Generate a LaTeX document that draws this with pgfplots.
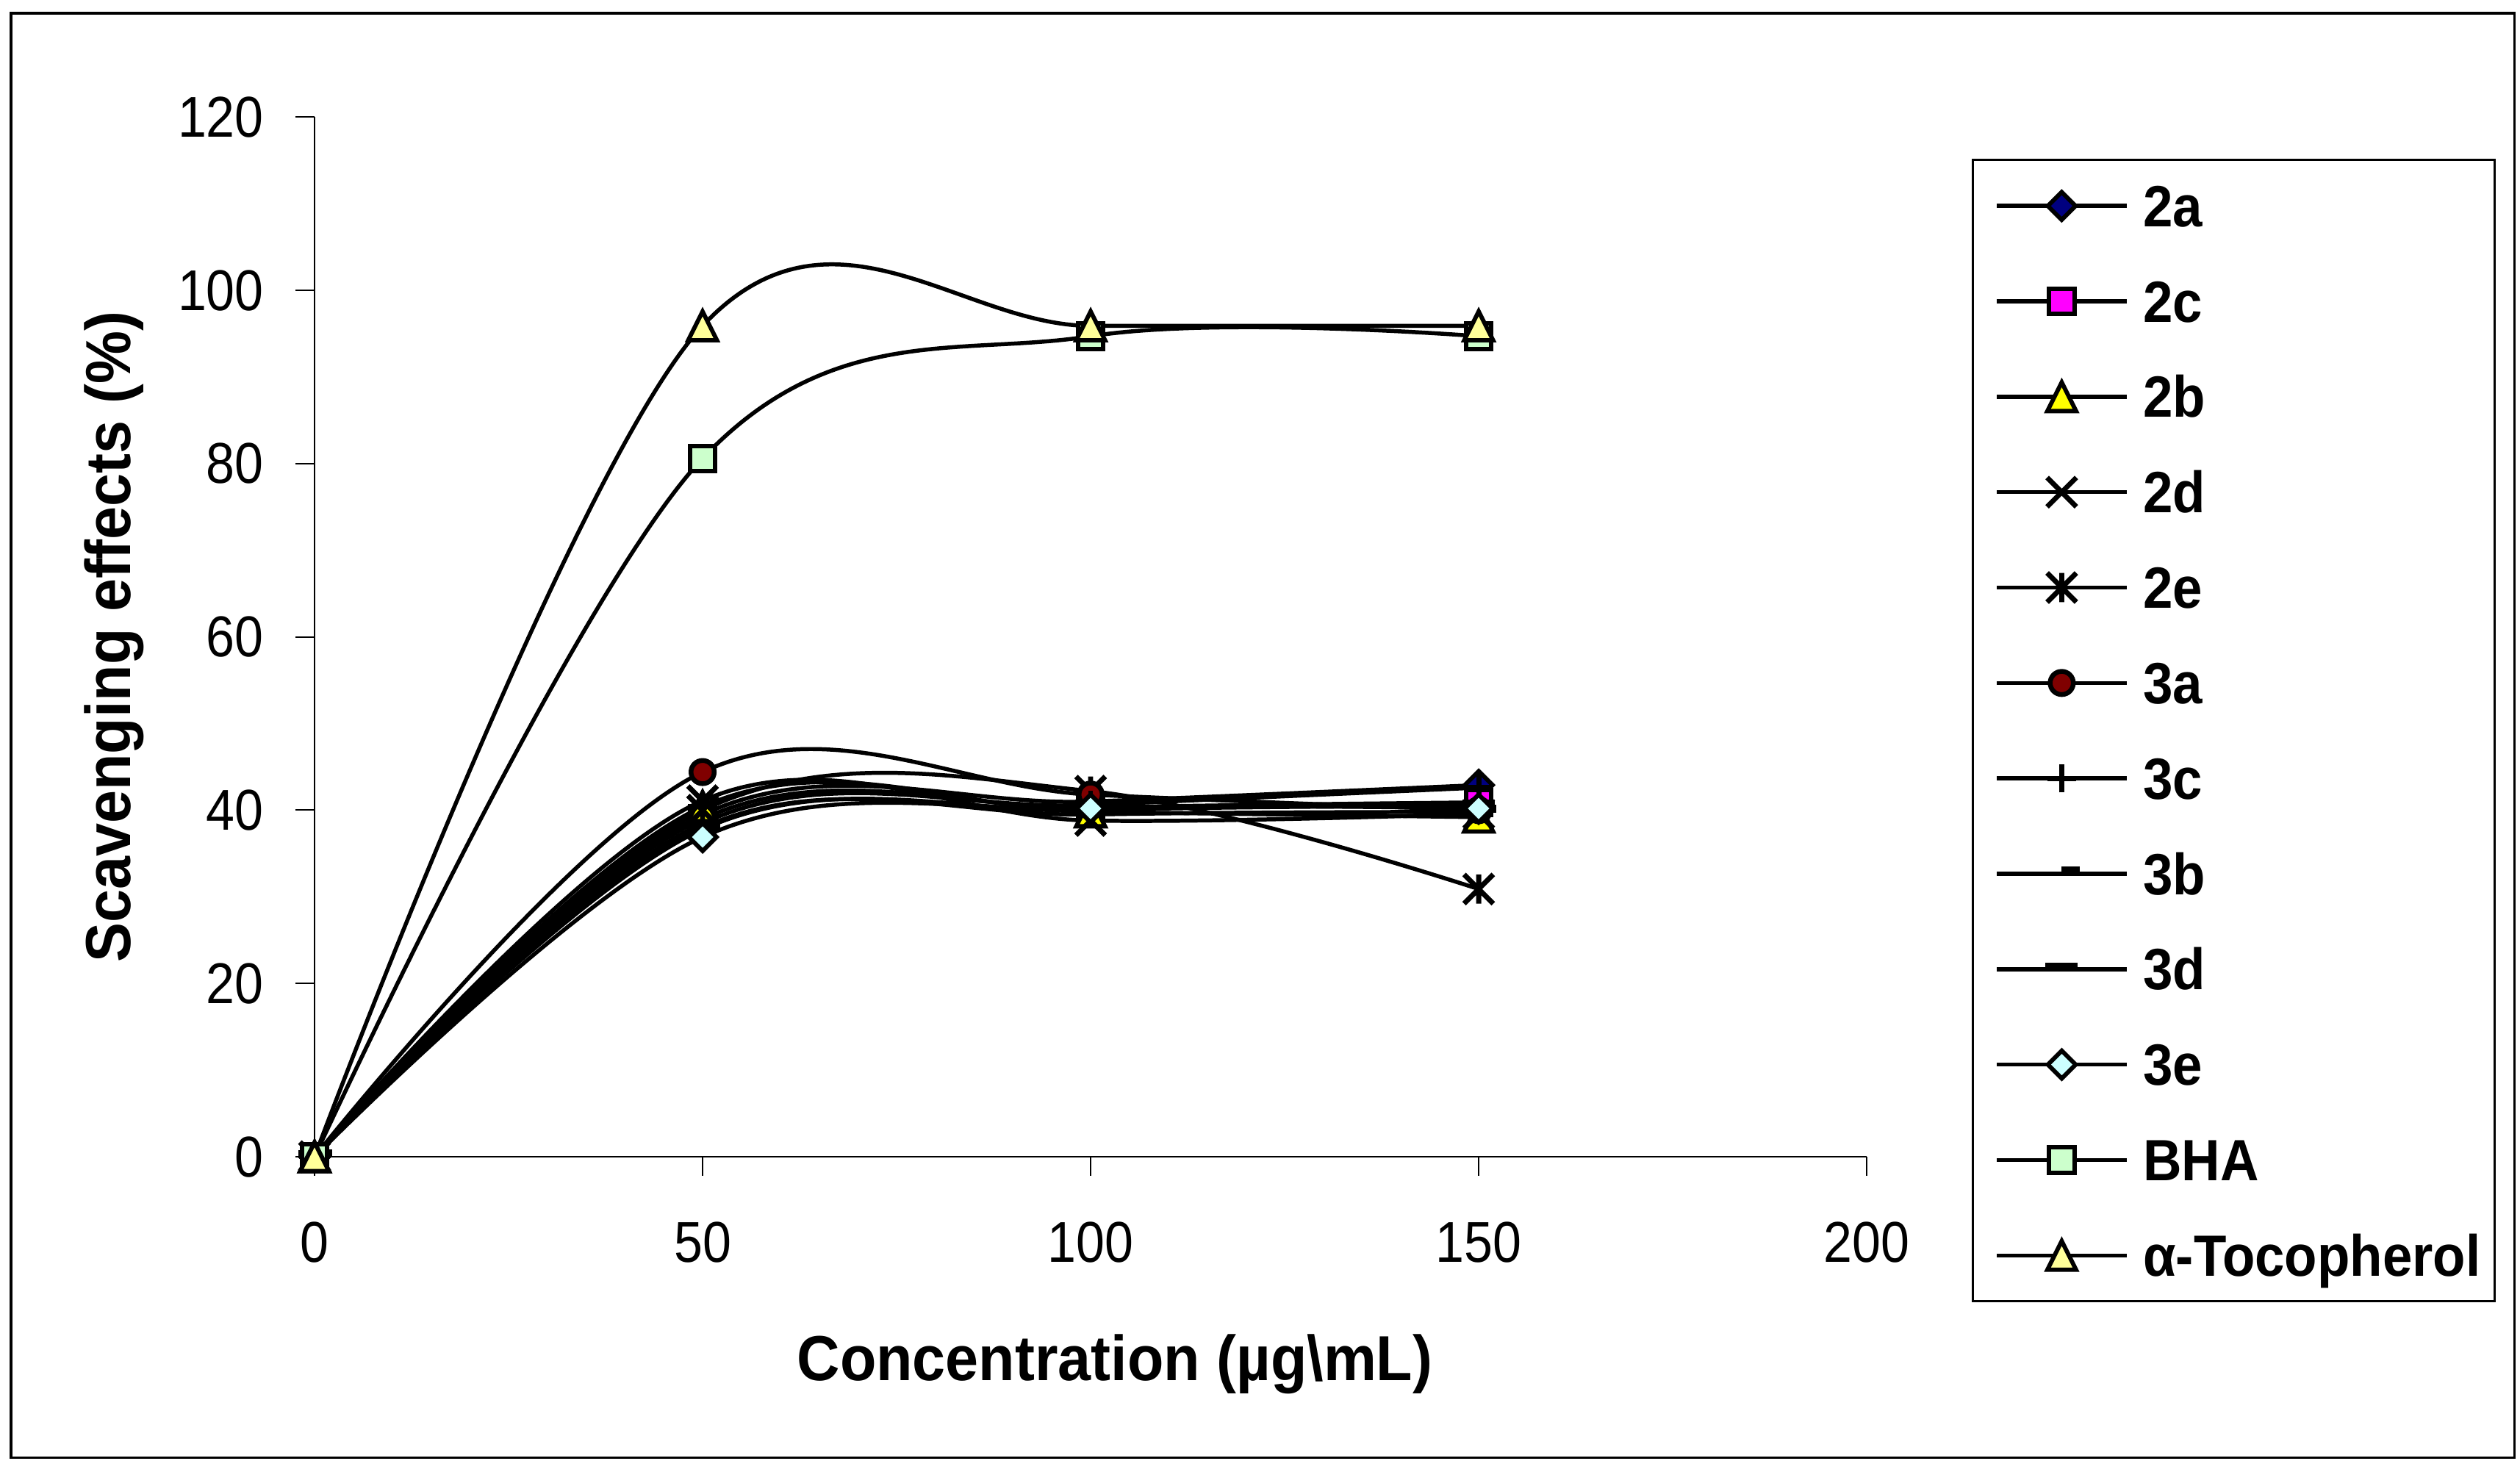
\documentclass[border=0pt]{standalone}
\usepackage{pgfplots}
\pgfplotsset{compat=1.18}
\usepackage{pgfplotstable}
\usepackage{graphicx}
\usepackage{fontspec}
\setmainfont{Liberation Sans}

\definecolor{navy2a}{HTML}{000080}
\definecolor{mag2c}{HTML}{FF00FF}
\definecolor{yel2b}{HTML}{FFFF00}
\definecolor{mar3a}{HTML}{800000}
\definecolor{cyan3e}{HTML}{CCFFFF}
\definecolor{bhac}{HTML}{CCFFCC}
\definecolor{tocc}{HTML}{FFFF99}

\pgfdeclareplotmark{xdia}{%
 \pgfpathmoveto{\pgfqpoint{0pt}{\pgfplotmarksize}}%
 \pgfpathlineto{\pgfqpoint{\pgfplotmarksize}{0pt}}%
 \pgfpathlineto{\pgfqpoint{0pt}{-\pgfplotmarksize}}%
 \pgfpathlineto{\pgfqpoint{-\pgfplotmarksize}{0pt}}%
 \pgfpathclose\pgfusepathqfillstroke}
\pgfdeclareplotmark{xtri}{%
 \pgfpathmoveto{\pgfqpoint{0pt}{\pgfplotmarksize}}%
 \pgfpathlineto{\pgfqpoint{\pgfplotmarksize}{-\pgfplotmarksize}}%
 \pgfpathlineto{\pgfqpoint{-\pgfplotmarksize}{-\pgfplotmarksize}}%
 \pgfpathclose\pgfusepathqfillstroke}
\pgfdeclareplotmark{xsq}{%
 \pgfpathrectangle{\pgfqpoint{-\pgfplotmarksize}{-\pgfplotmarksize}}{\pgfqpoint{2\pgfplotmarksize}{2\pgfplotmarksize}}%
 \pgfusepathqfillstroke}
\pgfdeclareplotmark{xcirc}{%
 \pgfpathcircle{\pgfpointorigin}{\pgfplotmarksize}\pgfusepathqfillstroke}
\pgfdeclareplotmark{xcross}{%
 \pgfpathmoveto{\pgfqpoint{-\pgfplotmarksize}{-\pgfplotmarksize}}%
 \pgfpathlineto{\pgfqpoint{\pgfplotmarksize}{\pgfplotmarksize}}%
 \pgfpathmoveto{\pgfqpoint{-\pgfplotmarksize}{\pgfplotmarksize}}%
 \pgfpathlineto{\pgfqpoint{\pgfplotmarksize}{-\pgfplotmarksize}}%
 \pgfusepathqstroke}
\pgfdeclareplotmark{xast}{%
 \pgfpathmoveto{\pgfqpoint{-\pgfplotmarksize}{-\pgfplotmarksize}}%
 \pgfpathlineto{\pgfqpoint{\pgfplotmarksize}{\pgfplotmarksize}}%
 \pgfpathmoveto{\pgfqpoint{-\pgfplotmarksize}{\pgfplotmarksize}}%
 \pgfpathlineto{\pgfqpoint{\pgfplotmarksize}{-\pgfplotmarksize}}%
 \pgfpathmoveto{\pgfqpoint{0pt}{-\pgfplotmarksize}}%
 \pgfpathlineto{\pgfqpoint{0pt}{\pgfplotmarksize}}%
 \pgfusepathqstroke}
\pgfdeclareplotmark{xplus}{%
 \pgfpathmoveto{\pgfqpoint{-\pgfplotmarksize}{0pt}}%
 \pgfpathlineto{\pgfqpoint{\pgfplotmarksize}{0pt}}%
 \pgfpathmoveto{\pgfqpoint{0pt}{-\pgfplotmarksize}}%
 \pgfpathlineto{\pgfqpoint{0pt}{\pgfplotmarksize}}%
 \pgfusepathqstroke}
\pgfdeclareplotmark{xsdash}{%
 \pgfpathrectangle{\pgfqpoint{0pt}{-0.2pt}}{\pgfqpoint{1.3\pgfplotmarksize}{1.6pt}}%
 \pgfusepathqfill}
\pgfdeclareplotmark{xldash}{%
 \pgfpathrectangle{\pgfqpoint{-\pgfplotmarksize}{-0.3pt}}{\pgfqpoint{2\pgfplotmarksize}{1.6pt}}%
 \pgfusepathqfill}

\pgfplotstableread{
x   a2   c2   b2   d2   e2   a3   c3   b3   d3   e3   bha  toc
0   0    0    0    0    0    0    0    0    0    0    0    0
50  39.5 39.0 40.4 41.1 40.0 44.4 38.5 38.0 37.8 36.9 80.6 95.9
100 41.0 40.3 39.8 38.8 42.2 41.8 40.6 39.5 40.0 40.2 94.7 95.9
150 42.9 40.9 39.2 39.6 30.9 40.0 42.6 39.8 40.5 40.2 94.7 95.9
}\data

\pgfplotsset{
 sline/.style={black, line width=0.8pt, smooth, tension=0.6},
 mA/.style={mark=xdia, mark size=2.75pt, mark options={solid, draw=black, fill=navy2a, line width=0.85pt}},
 mC/.style={mark=xsq, mark size=2.5pt, mark options={solid, draw=black, fill=mag2c, line width=0.85pt}},
 mB/.style={mark=xtri, mark size=2.85pt, mark options={solid, draw=black, fill=yel2b, line width=0.85pt}},
 mD/.style={mark=xcross, mark size=2.9pt, mark options={solid, draw=black, line width=1pt}},
 mE/.style={mark=xast, mark size=2.9pt, mark options={solid, draw=black, line width=1pt}},
 mAA/.style={mark=xcirc, mark size=2.3pt, mark options={solid, draw=black, fill=mar3a, line width=0.95pt}},
 mCC/.style={mark=xplus, mark size=2.8pt, mark options={solid, draw=black, line width=1pt}},
 mBB/.style={mark=xsdash, mark size=2.7pt, mark options={solid, fill=black}},
 mDD/.style={mark=xldash, mark size=3.2pt, mark options={solid, fill=black}},
 mEE/.style={mark=xdia, mark size=2.75pt, mark options={solid, draw=black, fill=cyan3e, line width=0.85pt}},
 mBHA/.style={mark=xsq, mark size=2.5pt, mark options={solid, draw=black, fill=bhac, line width=0.85pt}},
 mTOC/.style={mark=xtri, mark size=2.85pt, mark options={solid, draw=black, fill=tocc, line width=0.85pt}},
}
\newcommand\lgt[1]{\makebox[65.3pt][l]{\scalebox{1}[1.09]{#1}}}

\begin{document}
\begin{tikzpicture}
\useasboundingbox (0pt,0pt) rectangle (500pt,291.93pt);
\draw[line width=0.45pt] (2.19pt,2.77pt) rectangle (498.86pt,289.3pt);
\begin{axis}[
 at={(62.41pt,62.41pt)}, anchor=south west,
 scale only axis, width=307.97pt, height=206.3pt,
 xmin=0, xmax=200, ymin=0, ymax=120,
 axis x line*=bottom, axis y line*=left,
 axis line style={line width=0.3pt, -},
 xtick={0,50,100,150,200}, ytick={0,20,40,60,80,100,120},
 tick align=outside, major tick length=3.8pt,
 tick style={black, line width=0.3pt},
 clip=false,
 /pgf/number format/assume math mode=true,
 tick label style={font=\fontsize{10.2}{12}\selectfont, inner sep=0pt},
 xticklabel={\scalebox{1}[1.12]{\pgfmathprintnumber{\tick}}},
 yticklabel={\scalebox{1}[1.12]{\pgfmathprintnumber{\tick}}},
 xticklabel style={anchor=north, yshift=-8.9pt},
 yticklabel style={anchor=east, xshift=-6.1pt},
 label style={font=\bfseries\fontsize{11.8}{14}\selectfont, inner sep=0pt},
 xlabel={\scalebox{1}[1.07]{Concentration (µg\textbackslash mL)}},
 ylabel={\scalebox{1}[1.07]{Scavenging effects (\%)}},
 xlabel style={at={(axis description cs:0.5156,-0.2152)}, anchor=base},
 ylabel style={at={(axis description cs:-0.129,0.5)}, anchor=center},
 legend style={at={(1.0676,0.9597)}, anchor=north west, draw=black, line width=0.45pt,
   fill=white, inner xsep=4.4pt, inner ysep=4pt, row sep=8.73pt,
   font=\bfseries\fontsize{10.6}{12}\selectfont,
   nodes={inner sep=0pt, text height=9.2pt, text depth=1.0pt},
   /tikz/every odd column/.append style={column sep=2.9pt}},
 legend cell align=left,
 legend image code/.code={\draw[mark repeat=2,mark phase=2,#1] plot coordinates {(0pt,0pt) (12.85pt,0pt) (25.7pt,0pt)};},
]
% lines
\addplot[sline, forget plot] table[x=x,y=a2] {\data};
\addplot[sline, forget plot] table[x=x,y=c2] {\data};
\addplot[sline, forget plot] table[x=x,y=b2] {\data};
\addplot[sline, forget plot] table[x=x,y=d2] {\data};
\addplot[sline, forget plot] table[x=x,y=e2] {\data};
\addplot[sline, forget plot] table[x=x,y=a3] {\data};
\addplot[sline, forget plot] table[x=x,y=c3] {\data};
\addplot[sline, forget plot] table[x=x,y=b3] {\data};
\addplot[sline, forget plot] table[x=x,y=d3] {\data};
\addplot[sline, forget plot] table[x=x,y=e3] {\data};
\addplot[sline, forget plot] table[x=x,y=bha] {\data};
\addplot[sline, forget plot] table[x=x,y=toc] {\data};
% markers
\addplot[only marks, mA, forget plot] table[x=x,y=a2] {\data};
\addplot[only marks, mC, forget plot] table[x=x,y=c2] {\data};
\addplot[only marks, mB, forget plot] table[x=x,y=b2] {\data};
\addplot[only marks, mD, forget plot] table[x=x,y=d2] {\data};
\addplot[only marks, mE, forget plot] table[x=x,y=e2] {\data};
\addplot[only marks, mAA, forget plot] table[x=x,y=a3] {\data};
\addplot[only marks, mCC, forget plot] table[x=x,y=c3] {\data};
\addplot[only marks, mBB, forget plot] table[x=x,y=b3] {\data};
\addplot[only marks, mDD, forget plot] table[x=x,y=d3] {\data};
\addplot[only marks, mEE, forget plot] table[x=x,y=e3] {\data};
\addplot[only marks, mBHA, forget plot] table[x=x,y=bha] {\data};
\addplot[only marks, mTOC, forget plot] table[x=x,y=toc] {\data};
% legend
\addlegendimage{sline, mA}
\addlegendimage{sline, mC}
\addlegendimage{sline, mB}
\addlegendimage{sline, mD}
\addlegendimage{sline, mE}
\addlegendimage{sline, mAA}
\addlegendimage{sline, mCC}
\addlegendimage{sline, mBB}
\addlegendimage{sline, mDD}
\addlegendimage{sline, mEE}
\addlegendimage{sline, mBHA}
\addlegendimage{sline, mTOC}
\legend{\lgt{2a},\lgt{2c},\lgt{2b},\lgt{2d},\lgt{2e},\lgt{3a},\lgt{3c},\lgt{3b},\lgt{3d},\lgt{3e},\lgt{BHA},\lgt{α-Tocopherol}}
\end{axis}
\end{tikzpicture}
\end{document}
